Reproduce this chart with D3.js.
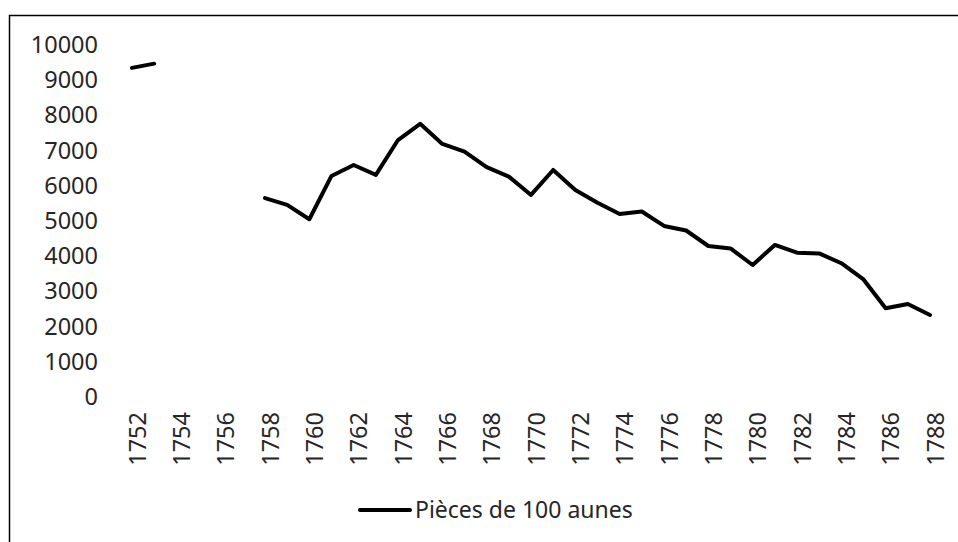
<!DOCTYPE html>
<html>
<head>
<meta charset="utf-8">
<script src="https://cdn.jsdelivr.net/npm/d3@7"></script>
<style>
  body { margin: 0; background: #fff; }
  text { font-family: 'Noto Sans', 'Open Sans', sans-serif; fill: #262626; }
</style>
</head>
<body>
<div id="chart"></div>
<script>
// Pièces de 100 aunes, 1752-1788 (gaps where no value exists)
const years = d3.range(1752, 1789)
const pieces = [
  9350, 9470, null, null, null, null,
  5650, 5460, 5050, 6280, 6590, 6310, 7300, 7760, 7190, 6970,
  6530, 6260, 5740, 6450, 5880, 5520, 5200, 5270, 4860, 4730,
  4290, 4220, 3750, 4320, 4100, 4080, 3800, 3340, 2520, 2640,
  2330
]
const yTicks = d3.range(0, 10001, 1000)
const xTickYears = d3.range(1752, 1789, 2)
const seriesName = 'Pièces de 100 aunes'

const W = 958
const H = 542

const svg = d3.select('#chart')
  .append('svg')
  .attr('width', W)
  .attr('height', H)

// outer frame (runs off the right and bottom edges)
svg.append('rect')
  .attr('x', 9.5)
  .attr('y', 15.5)
  .attr('width', 1000)
  .attr('height', 600)
  .attr('fill', 'none')
  .attr('stroke', '#000')
  .attr('stroke-width', 1.5)

const x = d3.scalePoint()
  .domain(years)
  .range([132, 930])

const y = d3.scaleLinear()
  .domain([0, 10000])
  .range([397, 45])

// Y axis labels only
const yAxis = svg.append('g')
  .attr('transform', 'translate(105,0)')
  .call(d3.axisLeft(y).tickValues(yTicks).tickSize(0).tickPadding(7).tickFormat(d3.format('d')))
yAxis.select('.domain').remove()
yAxis.selectAll('text')
  .style('font-size', '23.5px')
  .style('font-family', "'Noto Sans', sans-serif")
  .attr('fill', '#303030')

// X axis labels, rotated
const xAxis = svg.append('g')
  .attr('transform', 'translate(0,405)')
  .call(d3.axisBottom(x).tickValues(xTickYears).tickSize(0).tickPadding(0))
xAxis.select('.domain').remove()
xAxis.selectAll('text')
  .style('font-size', '23.5px')
  .style('font-family', "'Noto Sans', sans-serif")
  .attr('fill', '#303030')
  .attr('text-anchor', 'end')
  .attr('transform', 'rotate(-90)')
  .attr('x', -7)
  .attr('y', 5)
  .attr('dy', '0.35em')

// the series line
const data = years.map((yr, i) => ({ year: yr, value: pieces[i] }))
svg.append('path')
  .datum(data)
  .attr('fill', 'none')
  .attr('stroke', '#000')
  .attr('stroke-width', 4)
  .attr('stroke-linejoin', 'round')
  .attr('stroke-linecap', 'round')
  .attr('d', d3.line()
    .defined(d => d.value !== null)
    .x(d => x(d.year))
    .y(d => y(d.value)))

// legend
const legend = svg.append('g').attr('transform', 'translate(360,510)')
legend.append('line')
  .attr('x1', 0).attr('x2', 50)
  .attr('y1', 0).attr('y2', 0)
  .attr('stroke', '#000')
  .attr('stroke-width', 4)
  .attr('stroke-linecap', 'round')
legend.append('text')
  .attr('x', 55)
  .attr('y', 0)
  .attr('dy', '0.35em')
  .attr('fill', '#303030')
  .style('font-size', '23px')
  .text(seriesName)
</script>
</body>
</html>
